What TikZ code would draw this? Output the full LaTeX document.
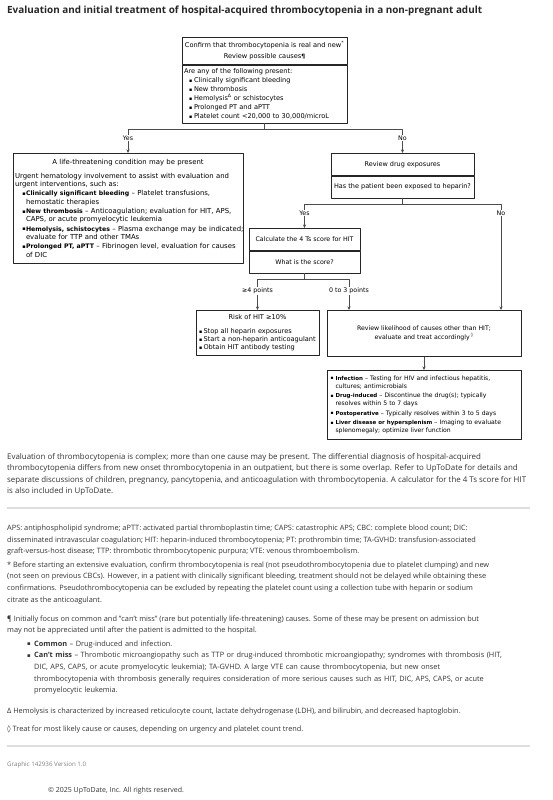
\documentclass[tikz,border=0pt]{standalone}
\usepackage{fontspec}
\setmainfont{Open Sans}
\newfontfamily\chartfont{DejaVu Sans}
\newfontfamily\chartbold{DejaVu Sans}[Scale=0.9]
\usetikzlibrary{arrows.meta,positioning}
\setlength{\parindent}{0pt}
\setlength{\parskip}{0pt}
\newlength{\bgap}
\newcommand{\cb}[1]{{\chartbold\bfseries #1}}
\newcommand{\sqb}{\raisebox{0.12ex}{\chartfont\scalebox{0.72}{▪}}}
\newcommand{\bitem}[3]{\ifvmode\vspace{\bgap}\fi\hangindent=#2pt\hangafter=1\noindent\makebox[#2pt][l]{\hspace{#1pt}\sqb}#3\par}

\begin{document}
\begin{tikzpicture}[x=1pt,y=-1pt,>={Stealth[length=3.6pt,width=3.2pt]},line join=round,
  chart/.style={font=\chartfont\fontsize{6.3}{8.4}\selectfont},
  box/.style={chart,draw=black!85,line width=0.6pt,inner xsep=2pt,inner ysep=0pt,align=center},
  listbox/.style={box,align=left},
  lbl/.style={chart,inner sep=0.8pt},
  link/.style={draw=black!70,line width=0.6pt},
  para/.style={anchor=north west,inner sep=0pt,align=left,text=black!80,font=\fontsize{7.35}{11.6}\selectfont},
  sepline/.style={draw=black!13,line width=1.2pt}]
  \useasboundingbox (0,0) rectangle (552,800);

  \node[anchor=west,inner sep=0pt,font=\bfseries\fontsize{9.9}{11}\selectfont,text=black!85] (title) at (7,11)
    {Evaluation and initial treatment of hospital-acquired thrombocytopenia in a non-pregnant adult};

  \node[box,minimum width=165pt,minimum height=27pt,anchor=north,font=\chartfont\fontsize{6.6}{8.4}\selectfont] (confirm) at (264.5,37)
    {Confirm that thrombocytopenia is real and new\textsuperscript{*}\\[2.4pt]Review possible causes\cb{¶}};
  \node[listbox,text width=161pt,minimum height=58pt,anchor=north,font=\chartfont\fontsize{6.6}{9}\selectfont] (present) at (confirm.south)
    {Are any of the following present:\par
     \bitem{5}{10}{Clinically significant bleeding}
     \bitem{5}{10}{New thrombosis}
     \bitem{5}{10}{Hemolysis\textsuperscript{Δ} or schistocytes}
     \bitem{5}{10}{Prolonged PT and aPTT}
     \bitem{5}{10}{Platelet count <20,000 to 30,000/microL}};

  \coordinate (split1) at ([yshift=-6pt]present.south);
  \node[lbl] (yes1) at (128,138) {Yes};
  \node[lbl] (no1) at (402.5,138) {No};
  \draw[link] (present.south) -- (split1);
  \draw[link] (yes1.north) |- (split1) -| (no1.north);

  \node[listbox,text width=226pt,minimum height=110pt,anchor=north,font=\chartfont\fontsize{6.9}{8.4}\selectfont] (life) at (128,153)
    {\setlength{\bgap}{0.8pt}%
     {\centering A life-threatening condition may be present\par}\vspace{5.2pt}%
     Urgent hematology involvement to assist with evaluation and\newline urgent interventions, such as:\par
     \bitem{7.5}{11}{\mbox{\cb{Clinically significant bleeding} – Platelet transfusions,}\newline hemostatic therapies}
     \bitem{7.5}{11}{\mbox{\cb{New thrombosis} – Anticoagulation; evaluation for HIT, APS,}\newline CAPS, or acute promyelocytic leukemia}
     \bitem{7.5}{11}{\mbox{\cb{Hemolysis, schistocytes} – Plasma exchange may be indicated;}\newline evaluate for TTP and other TMAs}
     \bitem{7.5}{11}{\mbox{\cb{Prolonged PT, aPTT} – Fibrinogen level, evaluation for causes}\newline of DIC}};
  \draw[link,->] (yes1.south) -- (life.north);

  \node[box,inner xsep=1pt,minimum width=143pt,minimum height=22pt,anchor=north,font=\chartfont\fontsize{6.5}{8.4}\selectfont] (drug) at (402.5,153) {Review drug exposures};
  \node[box,inner xsep=1pt,minimum width=143pt,minimum height=22pt,anchor=north,font=\chartfont\fontsize{6.5}{8.4}\selectfont] (heparin) at (drug.south) {Has the patient been exposed to heparin?};
  \draw[link,->] (no1.south) -- (drug.north);

  \coordinate (split2) at ([yshift=-6pt]heparin.south);
  \node[lbl] (yes2) at (304.5,213) {Yes};
  \node[lbl] (no2) at (501,213) {No};
  \draw[link] (heparin.south) -- (split2);
  \draw[link] (yes2.north) |- (split2) -| (no2.north);

  \node[box,minimum width=111pt,minimum height=22pt,anchor=north] (calc) at (304.5,228) {Calculate the 4 Ts score for HIT};
  \node[box,minimum width=111pt,minimum height=22pt,anchor=north] (score) at (calc.south) {What is the score?};
  \draw[link,->] (yes2.south) -- (calc.north);

  \coordinate (split3) at ([yshift=-6pt]score.south);
  \node[lbl] (high) at (257.5,291) {≥4 points};
  \node[lbl] (low) at (349,291) {0 to 3 points};
  \draw[link] (score.south) -- (split3);
  \draw[link] (high.north) |- (split3) -| (low.north);

  \node[listbox,text width=119pt,minimum height=45pt,anchor=north,font=\chartfont\fontsize{6.6}{8}\selectfont] (risk) at (257.5,310)
    {{\centering Risk of HIT ≥10\%\par}\vspace{6.3pt}%
     \bitem{1}{5.5}{\mbox{Stop all heparin exposures}}
     \bitem{1}{5.5}{\mbox{Start a non-heparin anticoagulant}}
     \bitem{1}{5.5}{\mbox{Obtain HIT antibody testing}}};
  \draw[link,->] (high.south) -- (risk.north);

  \node[box,minimum width=194pt,minimum height=46pt,anchor=north,font=\chartfont\fontsize{6.2}{8.4}\selectfont] (review) at (424,310)
    {Review likelihood of causes other than HIT;\\evaluate and treat accordingly\,\textsuperscript{◊}};
  \draw[link,->] (low.south) -- (low.south |- review.north);
  \draw[link,->] (no2.south) -- (no2.south |- review.north);

  \node[listbox,text width=190pt,minimum height=69pt,anchor=north,font=\chartfont\fontsize{6.1}{8}\selectfont] (causes) at (424,370)
    {\setlength{\bgap}{1.5pt}%
     \bitem{1.5}{6.5}{\mbox{\cb{Infection} – Testing for HIV and infectious hepatitis,}\newline cultures; antimicrobials}
     \bitem{1.5}{6.5}{\mbox{\cb{Drug-induced} – Discontinue the drug(s); typically}\newline resolves within 5 to 7 days}
     \bitem{1.5}{6.5}{\mbox{\cb{Postoperative} – Typically resolves within 3 to 5 days}}
     \bitem{1.5}{6.5}{\mbox{\cb{Liver disease or hypersplenism} – Imaging to evaluate}\newline splenomegaly; optimize liver function}};
  \draw[link,->] (review.south) -- (causes.north);

  \node[para,font=\fontsize{7.9}{11.5}\selectfont] (intro) at (7,453)
    {Evaluation of thrombocytopenia is complex; more than one cause may be present. The differential diagnosis of hospital-acquired\\
     thrombocytopenia differs from new onset thrombocytopenia in an outpatient, but there is some overlap. Refer to UpToDate for details and\\
     separate discussions of children, pregnancy, pancytopenia, and anticoagulation with thrombocytopenia. A calculator for the 4 Ts score for HIT\\
     is also included in UpToDate.};
  \draw[sepline] (7,508) -- (530,508);

  \node[para] (abbr) at (7,525)
    {APS: antiphospholipid syndrome; aPTT: activated partial thromboplastin time; CAPS: catastrophic APS; CBC: complete blood count; DIC:\\
     disseminated intravascular coagulation; HIT: heparin-induced thrombocytopenia; PT: prothrombin time; TA-GVHD: transfusion-associated\\
     graft-versus-host disease; TTP: thrombotic thrombocytopenic purpura; VTE: venous thromboembolism.};
  \node[para] (note1) at (7,561.5)
    {* Before starting an extensive evaluation, confirm thrombocytopenia is real (not pseudothrombocytopenia due to platelet clumping) and new\\
     (not seen on previous CBCs). However, in a patient with clinically significant bleeding, treatment should not be delayed while obtaining these\\
     confirmations. Pseudothrombocytopenia can be excluded by repeating the platelet count using a collection tube with heparin or sodium\\
     citrate as the anticoagulant.};
  \node[para] (note2) at (7,615.5)
    {¶ Initially focus on common and "can't miss" (rare but potentially life-threatening) causes. Some of these may be present on admission but\\
     may not be appreciated until after the patient is admitted to the hospital.};
  \node[para,text width=515pt] (note2list) at (27,640.5)
    {\bitem{0}{7}{\textbf{Common} – Drug-induced and infection.}
     \bitem{0}{7}{\textbf{Can't miss} – Thrombotic microangiopathy such as TTP or drug-induced thrombotic microangiopathy; syndromes with thrombosis (HIT,\newline
       DIC, APS, CAPS, or acute promyelocytic leukemia); TA-GVHD. A large VTE can cause thrombocytopenia, but new onset\newline
       thrombocytopenia with thrombosis generally requires consideration of more serious causes such as HIT, DIC, APS, CAPS, or acute\newline
       promyelocytic leukemia.}};
  \node[para] (note3) at (7,707.5)
    {Δ Hemolysis is characterized by increased reticulocyte count, lactate dehydrogenase (LDH), and bilirubin, and decreased haptoglobin.};
  \node[para] (note4) at (7,725.5)
    {{\chartfont ◊} Treat for most likely cause or causes, depending on urgency and platelet count trend.};
  \draw[sepline] (7,746) -- (530,746);

  \node[para,font=\fontsize{6.2}{8}\selectfont,text=black!50] (graphic) at (7,761.5) {Graphic 142936 Version 1.0};
  \node[para,font=\fontsize{7}{9}\selectfont] (copy) at (48,787) {© 2025 UpToDate, Inc. All rights reserved.};
\end{tikzpicture}
\end{document}
